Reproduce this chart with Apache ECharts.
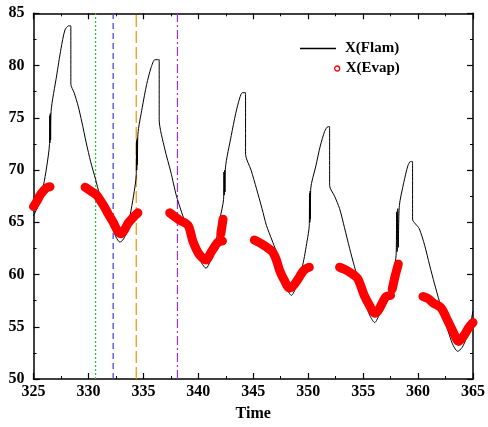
<!DOCTYPE html>
<html><head><meta charset="utf-8">
<script src="https://cdn.jsdelivr.net/npm/echarts@6/dist/echarts.min.js"></script>
<style>html,body{margin:0;padding:0;background:#fff}#c{width:488px;height:427px}</style>
</head><body><div id="c"></div>
<script>
// X(Flam) black curve
var flamT = [325.0,325.5,325.9,326.2,326.45,326.48,326.5,326.53,326.56,326.6,327.1,327.5,327.86,328.2,328.4,328.4,328.7,329.07,329.4,329.8,330.2,330.65,331.0,331.35,331.7,332.1,332.5,332.86,333.2,333.5,333.8,334.1,334.35,334.37,334.4,334.43,334.46,334.5,334.9,335.3,335.7,336.05,336.44,336.44,336.95,337.5,338.0,338.5,338.9,339.4,339.8,340.3,340.7,341.2,341.65,342.0,342.3,342.33,342.36,342.4,342.43,342.47,343.0,343.4,343.77,344.0,344.3,344.3,344.8,345.3,345.8,346.2,346.7,347.1,347.6,348.0,348.47,348.9,349.5,349.9,350.1,350.12,350.15,350.18,350.2,350.23,350.7,351.1,351.5,351.8,351.95,351.95,352.4,352.86,353.3,353.77,354.2,354.7,355.2,355.6,356.05,356.5,357.0,357.4,357.8,358.0,358.05,358.1,358.15,358.2,358.3,358.7,359.07,359.3,359.5,359.5,360.1,360.6,361.05,361.5,361.95,362.4,362.85,363.2,363.6,364.0,364.4,364.7,365.0];
var flamX = [65.6,66.8,68.5,70.3,72.4,75.2,72.6,75.4,72.9,75.6,79.0,81.6,83.4,83.8,83.8,78.2,77.4,76.1,74.6,72.6,70.8,69.1,67.7,66.6,65.6,64.7,63.6,63.1,63.4,64.2,65.7,67.5,69.5,72.8,70.0,73.0,70.5,73.4,76.0,78.2,79.8,80.56,80.56,74.8,72.0,69.8,67.55,65.9,64.7,63.3,62.2,61.1,60.6,61.6,63.4,65.5,67.2,69.8,67.6,70.0,67.9,70.2,73.3,75.4,76.9,77.4,77.4,71.5,70.0,68.2,66.3,64.7,63.3,62.2,60.5,58.8,58.0,58.8,60.9,63.2,64.7,67.8,65.0,68.0,65.3,68.2,70.4,72.3,73.7,74.15,74.15,68.5,67.5,66.3,64.5,62.5,60.8,59.0,57.3,56.1,55.4,56.2,57.2,58.4,60.5,61.8,66.0,62.2,66.3,62.6,66.6,68.8,70.4,70.8,70.8,65.3,64.4,62.8,60.9,59.1,57.4,55.8,54.2,53.2,52.65,53.0,53.9,55.0,56.5];
// X(Evap) red points (null = gap)
var evapT = [325.0,325.3,325.6,325.9,326.2,326.5,null,
  329.7,330.2,330.75,331.2,331.5,331.8,332.25,332.7,333.0,333.3,333.6,334.1,334.5,null,
  337.4,337.9,338.3,339.07,339.5,340.1,340.7,341.2,341.8,342.2,null,
  342.05,342.15,342.25,null,
  345.1,345.8,346.5,346.8,347.1,347.4,347.8,348.3,348.7,349.1,349.6,350.1,null,
  352.86,353.3,353.8,354.5,355.1,355.6,356.05,356.4,356.8,357.1,357.5,null,
  357.65,357.9,358.2,null,
  360.45,360.9,361.35,362.1,362.6,363.2,363.7,364.2,364.6,365.0];
var evapX = [66.5,67.0,67.6,68.0,68.3,68.4,null,
  68.35,68.0,67.6,66.9,66.4,65.8,65.0,64.1,63.9,64.3,64.9,65.5,65.9,null,
  65.9,65.5,65.2,64.7,63.2,61.9,61.4,62.2,63.1,63.2,null,
  63.9,64.6,65.3,null,
  63.3,62.9,62.4,62.1,61.4,60.4,59.5,58.7,59.0,59.6,60.4,60.7,null,
  60.7,60.5,60.2,59.6,58.0,57.0,56.3,56.6,57.4,57.9,58.0,null,
  58.6,59.8,61.0,null,
  57.9,57.7,57.3,56.8,55.8,54.5,53.6,54.2,54.9,55.4];
// vertical reference lines
var refT = [330.65, 332.25, 334.35, 338.1];
var refColors = ['#22cc22', '#3a3ae0', '#ff8c00', '#9b30e0'];
var refTypes = [[2,2], [6,4], [12,4], [9,3,2,3]];
var xTicks = [325,330,335,340,345,350,355,360,365];

function pairs(t, x){
  var out=[], last=t[0];
  for (var i=0;i<t.length;i++){
    if (t[i]===null){ out.push([last, null]); }
    else { out.push([t[i], x[i]]); last=t[i]; }
  }
  return out;
}
var font = 'Liberation Serif';
var series = [
  {name:'X(Flam)', type:'line', data:pairs(flamT, flamX), showSymbol:false, symbol:'none',
   smooth:0.25,
   lineStyle:{color:'#000', width:1}, itemStyle:{color:'#000'}, z:3, animation:false},
  {name:'X(Evap)', type:'line', data:pairs(evapT, evapX), showSymbol:false, symbol:'circle',
   connectNulls:false, smooth:0.3,
   lineStyle:{color:'#ff0000', width:9, cap:'round', join:'round'}, itemStyle:{color:'#ff0000'}, z:4, animation:false}
];
refT.forEach(function(t,i){
  series.push({type:'line', data:[[t,50],[t,85]], showSymbol:false, symbol:'none', silent:true,
    lineStyle:{color:refColors[i], width:1.2, type:refTypes[i]}, z:2, animation:false});
});
var axisCommon = {
  type:'value', interval:5,
  axisLine:{show:true, lineStyle:{color:'#000', width:1.5}},
  axisTick:{show:true, inside:true, length:6, lineStyle:{color:'#000', width:1.2}},
  minorTick:{show:true, splitNumber:2, length:3, lineStyle:{color:'#000', width:1}},
  splitLine:{show:false}
};
var labelStyle = {color:'#000', fontFamily:font, fontWeight:'bold', fontSize:16};
var chart = echarts.init(document.getElementById('c'), null, {renderer:'canvas'});
chart.setOption({
  animation:false,
  backgroundColor:'#fff',
  grid:{left:33.5, right:13, top:13.3, bottom:46},
  xAxis:[
    Object.assign({}, axisCommon, {min:325, max:365, position:'bottom',
      name:'Time', nameLocation:'middle', nameGap:27,
      nameTextStyle:labelStyle,
      axisLabel:Object.assign({margin:5, customValues:xTicks}, labelStyle)}),
    Object.assign({}, axisCommon, {min:325, max:365, position:'top', axisLabel:{show:false}})
  ],
  yAxis:[
    Object.assign({}, axisCommon, {min:50, max:85, position:'left',
      axisLabel:Object.assign({margin:9}, labelStyle)}),
    Object.assign({}, axisCommon, {min:50, max:85, position:'right', axisLabel:{show:false}})
  ],
  legend:[
    {data:[{name:'X(Flam)', icon:'rect'}], left:300, top:41, padding:0, itemWidth:36, itemHeight:1.5,
     itemGap:0, itemStyle:{color:'#000'},
     textStyle:{color:'#000', fontFamily:font, fontWeight:'bold', fontSize:15, padding:[0,0,0,4]}},
    {data:[{name:'X(Evap)', icon:'circle', itemStyle:{color:'#fff', borderColor:'#ff0000', borderWidth:1.3}}],
     left:334, top:61, padding:0, itemWidth:5, itemHeight:5, itemGap:0,
     textStyle:{color:'#000', fontFamily:font, fontWeight:'bold', fontSize:15, padding:[0,0,0,1]}}
  ],
  series:series
});
</script></body></html>
